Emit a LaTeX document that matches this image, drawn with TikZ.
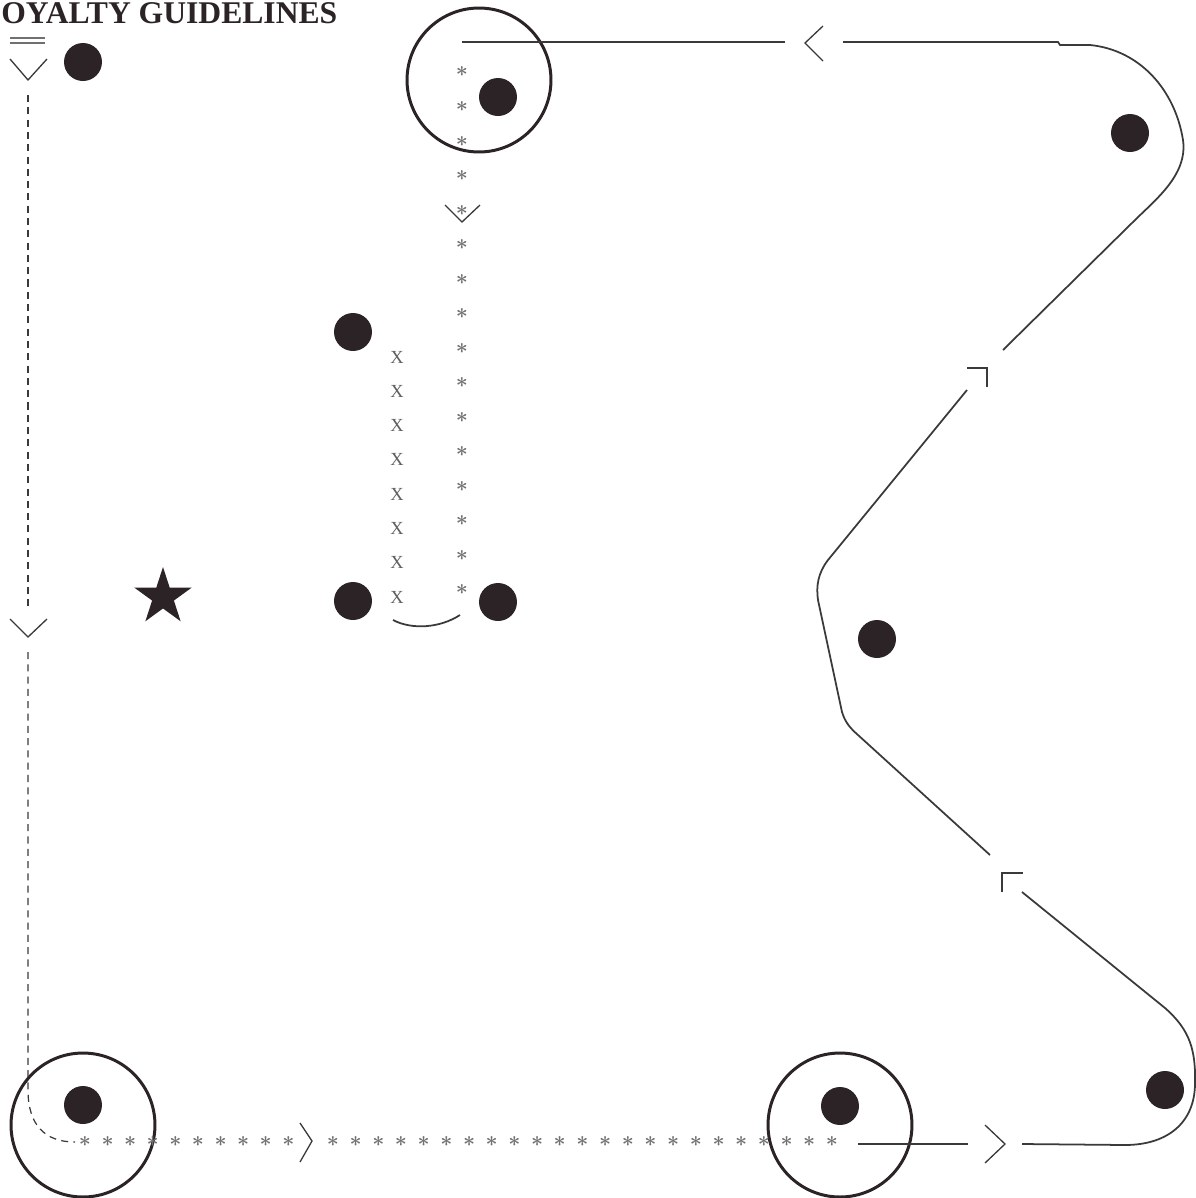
\documentclass[tikz,border=0pt]{standalone}
\usepackage{fontspec}
\setmainfont{Liberation Serif}
\usepackage{tikz}
\usetikzlibrary{shapes.geometric}

\definecolor{ink}{HTML}{2B2326}
\definecolor{route}{HTML}{3A3A3A}
\definecolor{mark}{HTML}{707070}

\begin{document}
\begin{tikzpicture}[x=0.02cm,y=-0.02cm,
    dot/.style={fill=ink,circle,inner sep=0pt,minimum size=0.76cm},
    ring/.style={draw=ink,line width=1.7pt,circle,inner sep=0pt,minimum size=2.88cm},
    run/.style={draw=route,line width=1pt},
    chev/.style={draw=route,line width=0.75pt},
    drop/.style={draw=route,line width=0.7pt,dash pattern=on 4pt off 3pt},
    ast/.style={text=mark,inner sep=0pt,font=\boldmath\fontsize{13}{13}\selectfont},
    xmark/.style={text=mark!85!black,inner sep=0pt,font=\fontsize{10.5}{11}\selectfont}]
  \useasboundingbox (0,0) rectangle (1196,1198);

  \node[anchor=base west,inner sep=0pt,text height=12pt,text depth=0pt,text=ink,
    font=\bfseries\fontsize{18}{19}\selectfont] (title) at (1,23) {OYALTY GUIDELINES};
  \draw[chev,draw=mark] (10,38) -- (45,38);
  \draw[chev,draw=mark] (10,43) -- (45,43);

  % players
  \node[dot] (p1) at (83,62) {};
  \node[dot] (p2) at (498,97) {};
  \node[dot] (p3) at (1130,133) {};
  \node[dot] (p4) at (353,332) {};
  \node[dot] (p5) at (353,601) {};
  \node[dot] (p6) at (498,602) {};
  \node[dot] (p7) at (877,639) {};
  \node[dot] (p8) at (83,1105) {};
  \node[dot] (p9) at (840,1106) {};
  \node[dot] (p10) at (1165,1090) {};
  \node[star,star points=5,star point ratio=2.618,fill=ink,inner sep=0pt,minimum size=1.2cm] (st) at (163,597) {};

  \node[ring] (r1) at (479,80) {};
  \node[ring] (r2) at (83,1125) {};
  \node[ring] (r3) at (840,1125) {};

  % route marks
  \foreach \i in {0,...,15}
    \node[ast] (a\i) at (462,{72+34.53*\i}) {$\ast$};
  \foreach \i in {0,...,9}
    \node[ast] (b\i) at ({85+22.6*\i},1142) {$\ast$};
  \foreach \i in {0,...,22}
    \node[ast] (c\i) at ({333+22.68*\i},1142) {$\ast$};
  \foreach \i in {0,...,7}
    \node[xmark] (x\i) at (397,{357+34.3*\i}) {X};

  % solid route
  \coordinate (t0) at (462,42);
  \coordinate (t1) at (785,42);
  \coordinate (t2) at (843,42);
  \coordinate (t3) at (1003,350);
  \coordinate (m0) at (967,390);
  \coordinate (m1) at (990,855);
  \coordinate (u0) at (1022,892);
  \coordinate (u1) at (1022,1144);
  \coordinate (w0) at (858,1144);
  \coordinate (w1) at (968,1144);
  \draw[run] (t0) -- (t1);
  \draw[run] (t2) -- (1058,42) -- (1060,45) -- (1090,45)
    .. controls (1140,50) and (1175,90) .. (1183,140)
    .. controls (1188,175) and (1155,200) .. (1133,222) -- (t3);
  \draw[run] (m0) -- (828,560) .. controls (818,573) and (816,586) .. (818,600)
    -- (842,712) .. controls (845,722) and (850,728) .. (858,735) -- (m1);
  \draw[run] (u0) -- (1165,1008) .. controls (1190,1030) and (1196,1050) .. (1195,1085)
    .. controls (1194,1125) and (1165,1145) .. (1125,1145) -- (u1);
  \draw[run] (w0) -- (w1);
  \draw[run] (393,620) .. controls (412,630) and (440,628) .. (460,615);

  % dashed route
  \coordinate (d0) at (28,95);
  \coordinate (d1) at (28,608);
  \coordinate (d2) at (28,652);
  \coordinate (d3) at (75,1142);
  \draw[drop] (d0) -- (d1);
  \draw[drop] (d2) -- (28,1090) .. controls (28,1125) and (45,1142) .. (d3);

  % arrow heads
  \coordinate (c1) at (805,43);
  \coordinate (c2) at (1005,1144);
  \coordinate (c3) at (312,1141);
  \coordinate (c4) at (28,80);
  \coordinate (c5) at (28,637);
  \coordinate (c6) at (462,222);
  \coordinate (k1) at (987,368);
  \coordinate (k2) at (1002,873);
  \draw[chev] (c1) ++(18,-17) -- (c1) -- ++(18,18);
  \draw[chev] (c2) ++(-20,-19) -- (c2) -- ++(-20,19);
  \draw[chev] (c3) ++(-12,-18) -- (c3) -- ++(-12,21);
  \draw[chev] (c4) ++(-18,-21) -- (c4) -- ++(19,-21);
  \draw[chev] (c5) ++(-18,-18) -- (c5) -- ++(19,-18);
  \draw[chev] (c6) ++(-17,-17) -- (c6) -- ++(18,-17);
  \draw[chev] (k1) ++(-20,0) -- (k1) -- ++(0,19);
  \draw[chev] (k2) ++(0,19) -- (k2) -- ++(21,0);
\end{tikzpicture}
\end{document}
